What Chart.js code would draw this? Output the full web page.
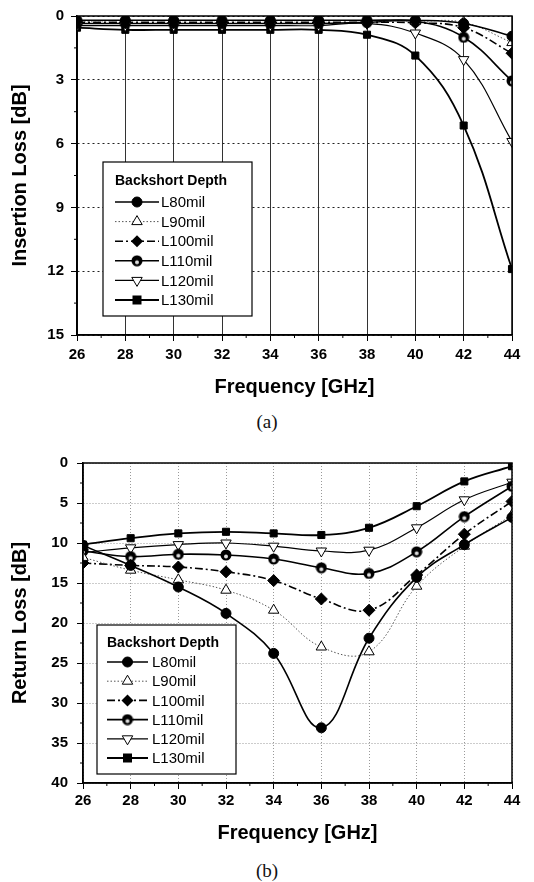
<!DOCTYPE html>
<html>
<head>
<meta charset="utf-8">
<script src="https://cdn.jsdelivr.net/npm/chart.js@4.4.1/dist/chart.umd.min.js"></script>
<style>
  body { margin: 0; background: #fff; width: 534px; height: 882px; position: relative; overflow: hidden; }
  .wrap { position: absolute; left: 0; width: 534px; }
  .cap { position: absolute; left: 0; width: 534px; text-align: center; font: 19px "Liberation Serif", serif; color: #111; }
</style>
</head>
<body>
<div class="wrap" style="top:0;height:400px"><canvas id="chartA"></canvas></div>
<div class="cap" style="top:411px">(a)</div>
<div class="wrap" style="top:440px;height:410px"><canvas id="chartB"></canvas></div>
<div class="cap" style="top:860px">(b)</div>
<script>
// frequencies (GHz) and series names
const freq = [26, 28, 30, 32, 34, 36, 38, 40, 42, 44];
const seriesNames = ['L80mil', 'L90mil', 'L100mil', 'L110mil', 'L120mil', 'L130mil'];

// (a) insertion loss, dB
const ilL80  = [0.20, 0.20, 0.20, 0.20, 0.20, 0.20, 0.20, 0.20, 0.35, 0.95];
const ilL90  = [0.25, 0.22, 0.22, 0.22, 0.22, 0.22, 0.22, 0.25, 0.30, 1.25];
const ilL100 = [0.30, 0.30, 0.30, 0.30, 0.30, 0.30, 0.30, 0.32, 0.55, 1.75];
const ilL110 = [0.35, 0.35, 0.35, 0.35, 0.35, 0.35, 0.30, 0.25, 1.00, 3.05];
const ilL120 = [0.45, 0.45, 0.45, 0.45, 0.45, 0.45, 0.35, 0.80, 2.05, 5.90];
const ilL130 = [0.55, 0.65, 0.65, 0.65, 0.65, 0.65, 0.88, 1.86, 5.15, 11.9];

// (b) return loss, dB
const rlL80  = [10.3, 12.8, 15.5, 18.8, 23.8, 33.1, 21.9, 14.3, 10.2, 6.8];
const rlL90  = [11.8, 13.4, 14.6, 15.9, 18.4, 23.0, 23.6, 15.4, 10.4, 6.5];
const rlL100 = [12.5, 12.8, 13.0, 13.6, 14.7, 17.0, 18.4, 14.0, 8.9, 4.8];
const rlL110 = [11.0, 11.7, 11.4, 11.5, 12.0, 13.1, 13.8, 11.1, 6.7, 2.9];
const rlL120 = [11.2, 10.6, 10.2, 10.0, 10.4, 11.0, 10.9, 8.1, 4.6, 2.4];
const rlL130 = [10.2, 9.4, 8.8, 8.6, 8.8, 9.0, 8.1, 5.4, 2.3, 0.4];

const FONT = '"Liberation Sans", Arial, sans-serif';

// circle with a light spot (Origin's half-filled dot)
function halfDot() {
  const c = document.createElement('canvas');
  c.width = c.height = 12;
  const g = c.getContext('2d');
  g.fillStyle = '#000';
  g.beginPath(); g.arc(6, 6, 5.5, 0, Math.PI * 2); g.fill();
  g.fillStyle = '#ddd';
  g.beginPath(); g.arc(6, 7.5, 2, 0, Math.PI * 2); g.fill();
  return c;
}
const dotImg = halfDot();

// line/marker style of each series
const styles = [
  { pointStyle: 'circle', pointRadius: 5, bg: '#000', line: '#000', width: 1.6, dash: [] },
  { pointStyle: 'triangle', pointRadius: 6, bg: '#fff', line: '#555', width: 1, dash: [1.5, 2] },
  { pointStyle: 'rectRot', pointRadius: 6, bg: '#000', line: '#000', width: 1.6, dash: [8, 3, 2, 3] },
  { pointStyle: dotImg, pointRadius: 6, bg: '#000', line: '#000', width: 1.6, dash: [] },
  { pointStyle: 'triangle', pointRadius: 6, rotation: 180, bg: '#fff', line: '#000', width: 1.2, dash: [] },
  { pointStyle: 'rect', pointRadius: 5, bg: '#000', line: '#000', width: 1.8, dash: [] }
];

function makeDatasets(lists) {
  return lists.map((vals, i) => {
    const s = styles[i];
    return {
      label: seriesNames[i],
      data: freq.map((f, k) => ({ x: f, y: vals[k] })),
      borderColor: s.line,
      borderWidth: s.width,
      borderDash: s.dash,
      pointStyle: s.pointStyle,
      pointRadius: s.pointRadius,
      pointRotation: s.rotation || 0,
      pointBackgroundColor: s.bg,
      pointBorderColor: '#000',
      pointBorderWidth: 1,
      tension: 0.4,
      fill: false
    };
  });
}

// legend marker drawing
function marker(ctx, s, x, y) {
  ctx.save();
  ctx.setLineDash([]);
  ctx.fillStyle = s.bg;
  ctx.strokeStyle = '#000';
  ctx.lineWidth = 1;
  const r = s.pointRadius;
  if (typeof s.pointStyle !== 'string') {
    ctx.drawImage(s.pointStyle, x - 6, y - 6);
  } else if (s.pointStyle === 'circle') {
    ctx.beginPath(); ctx.arc(x, y, r, 0, Math.PI * 2); ctx.fill(); ctx.stroke();
  } else if (s.pointStyle === 'rect') {
    ctx.fillRect(x - r * 0.9, y - r * 0.9, r * 1.8, r * 1.8);
  } else if (s.pointStyle === 'rectRot') {
    ctx.beginPath(); ctx.moveTo(x, y - r); ctx.lineTo(x + r, y); ctx.lineTo(x, y + r); ctx.lineTo(x - r, y); ctx.closePath(); ctx.fill();
  } else if (s.pointStyle === 'triangle') {
    const d = s.rotation ? -1 : 1;
    ctx.beginPath();
    ctx.moveTo(x, y - d * r);
    ctx.lineTo(x + r * 0.87, y + d * r * 0.5);
    ctx.lineTo(x - r * 0.87, y + d * r * 0.5);
    ctx.closePath(); ctx.fill(); ctx.stroke();
  }
  ctx.restore();
}

const boxLegend = {
  id: 'boxLegend',
  afterDraw(chart, args, o) {
    const { ctx, chartArea } = chart;
    const x = chartArea.left + o.dx, y = chartArea.top + o.dy;
    ctx.save();
    ctx.fillStyle = '#fff';
    ctx.fillRect(x, y, o.w, o.h);
    ctx.strokeStyle = '#000';
    ctx.lineWidth = 1.2;
    ctx.strokeRect(x, y, o.w, o.h);
    ctx.fillStyle = '#000';
    ctx.textBaseline = 'middle';
    ctx.textAlign = 'left';
    ctx.font = 'bold 14px ' + FONT;
    ctx.fillText('Backshort Depth', x + o.tx, y + o.ty);
    ctx.font = '15px ' + FONT;
    seriesNames.forEach((name, i) => {
      const s = styles[i];
      const ry = y + o.r0 + i * o.rh;
      ctx.save();
      ctx.strokeStyle = s.line;
      ctx.lineWidth = s.width;
      ctx.setLineDash(s.dash);
      ctx.beginPath(); ctx.moveTo(x + o.l0, ry); ctx.lineTo(x + o.l1, ry); ctx.stroke();
      ctx.restore();
      marker(ctx, s, x + (o.l0 + o.l1) / 2, ry);
      ctx.fillStyle = '#000';
      ctx.fillText(name, x + o.lx, ry + 1);
    });
    ctx.restore();
  }
};

// full box round the plot plus minor ticks
const frame = {
  id: 'frame',
  afterDatasetsDraw(chart) {
    const { ctx, chartArea: a, scales } = chart;
    ctx.save();
    ctx.strokeStyle = '#000';
    ctx.lineWidth = 1.5;
    ctx.strokeRect(a.left, a.top, a.right - a.left, a.bottom - a.top);
    ctx.lineWidth = 1;
    ctx.beginPath();
    const xt = scales.x.ticks;
    for (let i = 0; i < xt.length - 1; i++) {
      const px = scales.x.getPixelForValue((xt[i].value + xt[i + 1].value) / 2);
      ctx.moveTo(px, a.bottom); ctx.lineTo(px, a.bottom + 3);
    }
    const yt = scales.y.ticks;
    for (let i = 0; i < yt.length - 1; i++) {
      const py = scales.y.getPixelForValue((yt[i].value + yt[i + 1].value) / 2);
      ctx.moveTo(a.left, py); ctx.lineTo(a.left - 3, py);
    }
    ctx.stroke();
    ctx.restore();
  }
};

function config(lists, o) {
  return {
    type: 'line',
    data: { datasets: makeDatasets(lists) },
    plugins: [frame, boxLegend],
    options: {
      responsive: true,
      maintainAspectRatio: false,
      animation: false,
      layout: { padding: { top: o.top, right: 22, bottom: 0, left: 0 } },
      plugins: {
        legend: { display: false },
        tooltip: { enabled: false },
        boxLegend: o.legend
      },
      scales: {
        x: {
          type: 'linear', min: 26, max: 44,
          afterFit: s => { s.height = o.xh; },
          ticks: { stepSize: 2, color: '#000', padding: o.xpad, font: { family: FONT, size: 15, weight: 'bold' } },
          grid: { color: o.xgrid, lineWidth: 1, tickLength: 6, tickColor: '#000', drawOnChartArea: true },
          border: { display: true, color: '#000', width: 1.5, dash: o.xdash },
          title: { display: true, text: 'Frequency [GHz]', color: '#000', padding: { top: 0, bottom: o.tpad }, font: { family: FONT, size: 20, weight: 'bold' } }
        },
        y: {
          type: 'linear', min: 0, max: o.ymax, reverse: true,
          afterFit: s => { s.width = o.yw; },
          ticks: { stepSize: o.ystep, color: '#000', padding: o.ypad, font: { family: FONT, size: 15, weight: 'bold' } },
          grid: { color: o.ygrid, lineWidth: 1, tickLength: 6, tickColor: '#000' },
          border: { display: true, color: '#000', width: 1.5, dash: o.ydash },
          title: { display: true, text: o.ytitle, color: '#000', padding: { top: 8, bottom: 0 }, font: { family: FONT, size: 20, weight: 'bold' } }
        }
      }
    }
  };
}

const chartA = new Chart(document.getElementById('chartA'), config(
  [ilL80, ilL90, ilL100, ilL110, ilL120, ilL130],
  {
    top: 13, xh: 65, yw: 77, xpad: 5, ypad: 7, tpad: 1, ymax: 15, ystep: 3,
    ytitle: 'Insertion Loss [dB]',
    xgrid: '#333', ygrid: '#222', xdash: [], ydash: [2, 3],
    legend: { dx: 26, dy: 146, w: 149, h: 154, tx: 12, ty: 19, r0: 40, rh: 19.6, l0: 12, l1: 56, lx: 58 }
  }
));

const chartB = new Chart(document.getElementById('chartB'), config(
  [rlL80, rlL90, rlL100, rlL110, rlL120, rlL130],
  {
    top: 23, xh: 67, yw: 83, xpad: 3, ypad: 9, tpad: 5, ymax: 40, ystep: 5,
    ytitle: 'Return Loss [dB]',
    xgrid: '#999', ygrid: '#999', xdash: [1, 2], ydash: [1, 2],
    legend: { dx: 14, dy: 162, w: 139, h: 149, tx: 10, ty: 18, r0: 37, rh: 19.2, l0: 10, l1: 51, lx: 55 }
  }
));
</script>
</body>
</html>
